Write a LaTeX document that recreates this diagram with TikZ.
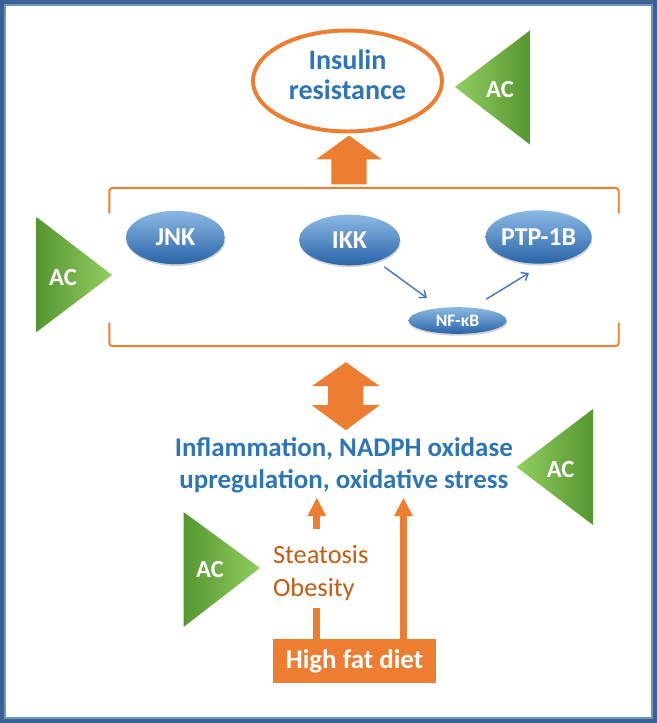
\documentclass[tikz,border=0pt]{standalone}
\usepackage{fontspec}
\setmainfont{Carlito}
\usetikzlibrary{arrows.meta,calc,shapes.geometric,shadows}

\definecolor{hforange}{RGB}{237,125,49}
\definecolor{hftext}{RGB}{197,90,17}
\definecolor{irblue}{RGB}{46,117,182}
\definecolor{framecol}{RGB}{58,98,148}
\definecolor{framelight}{RGB}{112,150,196}
\definecolor{elltop}{RGB}{140,185,228}
\definecolor{ellbot}{RGB}{40,100,168}
\definecolor{linkblue}{RGB}{68,114,196}
\definecolor{acdark}{RGB}{85,150,48}
\definecolor{aclight}{RGB}{146,206,96}

\begin{document}
\begin{tikzpicture}[x=0.03cm,y=-0.03cm,line cap=round,line join=round,
  irbox/.style={ellipse,draw=hforange,line width=3.4pt,minimum width=5.67cm,minimum height=3.03cm,inner sep=0pt},
  bigtext/.style={text=irblue,align=center,inner sep=0pt,font=\bfseries\fontsize{23}{25}\selectfont},
  kinase/.style={ellipse,top color=elltop,bottom color=ellbot,text=white,inner sep=0pt,
    minimum width=2.97cm,minimum height=1.6cm,font=\bfseries\fontsize{22}{24}\selectfont,
    drop shadow={opacity=0.35,shadow xshift=0.6pt,shadow yshift=-1.6pt}},
  actext/.style={text=white,inner sep=0pt,font=\bfseries\fontsize{21}{23}\selectfont},
  bracket/.style={draw=hforange,line width=1.7pt,rounded corners=3pt},
  blockarrow/.style={fill=hforange},
  fatline/.style={draw=hforange,line width=6pt,line cap=butt},
  linkarrow/.style={draw=linkblue,line width=1.2pt,-{Straight Barb[length=5pt,width=8pt]}}]
\useasboundingbox (0,0) rectangle (657,723);
\draw[framecol,line width=3.4pt,line join=miter] (2,2) rectangle (655,721);
\draw[framelight,line width=1.5pt,line join=miter] (5,5) rectangle (652,718);

% insulin resistance
\node[irbox] (ir) at (347.5,81) {};
\node[bigtext,font=\bfseries\fontsize{24}{26}\selectfont] (irlbl) at (347.5,75) {Insulin\\resistance};
\shade[left color=aclight,right color=acdark] (455,87) -- (530.5,30) -- (530.5,145) -- cycle;
\node[actext] (ac1) at (500,90) {AC};

% signalling group
\node[inner sep=0pt,minimum width=15.27cm,minimum height=4.74cm] (grp) at (364,267) {};
\draw[bracket] ($(grp.north west)+(0,25)$) -- (grp.north west) -- (grp.north east) -- ($(grp.north east)+(0,25)$);
\draw[bracket] ($(grp.south west)+(0,-23)$) -- (grp.south west) -- (grp.south east) -- ($(grp.south east)+(0,-23)$);
\node[kinase] (jnk) at (175.4,237.5) {JNK};
\node[kinase,minimum width=3.03cm,minimum height=1.52cm] (ikk) at (349.5,240) {IKK};
\node[kinase,minimum width=3.06cm] (ptp) at (538.6,237) {PTP-1B};
\node[kinase,minimum width=2.94cm,minimum height=0.8cm,font=\bfseries\fontsize{15}{17}\selectfont] (nfkb) at (457.5,320.5) {NF-κB};
\draw[linkarrow] ($(ikk)+(35,27)$) -- ($(nfkb)+(-30.5,-22.5)$);
\draw[linkarrow] ($(nfkb)+(29,-21.5)$) -- ($(ptp)+(-9.6,36)$);
\shade[left color=acdark,right color=aclight] (36.5,217) -- (112,275) -- (36.5,332) -- cycle;
\node[actext] (ac2) at (63,278) {AC};

% arrow up to insulin resistance
\fill[blockarrow] ($(ir.south)+(1.5,2)$) -- ++(33,24) -- ++(-15.4,0) -- ++(0,25) -- ++(-35.2,0) -- ++(0,-25) -- ++(-15.4,0) -- cycle;

% inflammation
\node[bigtext] (infl) at (343.8,465) {Inflammation, NADPH oxidase\\[2pt]upregulation, oxidative stress};
\fill[blockarrow] ($(infl.north)+(2,-7)$) -- ++(-34,-25) -- ++(16.4,0) -- ++(0,-19) -- ++(-16.4,0) -- ++(34,-24) -- ++(34,24) -- ++(-16.4,0) -- ++(0,19) -- ++(16.4,0) -- cycle;
\shade[left color=aclight,right color=acdark] (516.6,467) -- (593,409) -- (593,525) -- cycle;
\node[actext] (ac3) at (560.6,470) {AC};

% diet
\node[fill=hforange,text=white,inner sep=0pt,minimum width=4.9cm,minimum height=1.32cm,
  font=\bfseries\fontsize{23}{25}\selectfont] (hfd) at (354.5,661) {High fat diet};
\node[anchor=west,align=left,text=hftext,inner sep=0pt,font=\fontsize{22.5}{28}\selectfont] (steat) at (272.8,573) {Steatosis\\Obesity};
\shade[left color=acdark,right color=aclight] (183.5,512) -- (260,568) -- (183.5,627) -- cycle;
\node[actext] (ac4) at (210,570) {AC};
\coordinate (lft) at ($(hfd.north)+(-37.7,0)$);
\coordinate (rgt) at ($(hfd.north)+(49,0)$);
\draw[fatline] (lft) -- ++(0,-31);
\draw[fatline,-{Triangle[length=16pt,width=15pt]},shorten >=4pt] ($(lft |- steat.north)+(0,-16)$) -- (lft |- infl.south);
\draw[fatline,-{Triangle[length=16pt,width=15pt]},shorten >=4pt] (rgt) -- (rgt |- infl.south);
\end{tikzpicture}
\end{document}
